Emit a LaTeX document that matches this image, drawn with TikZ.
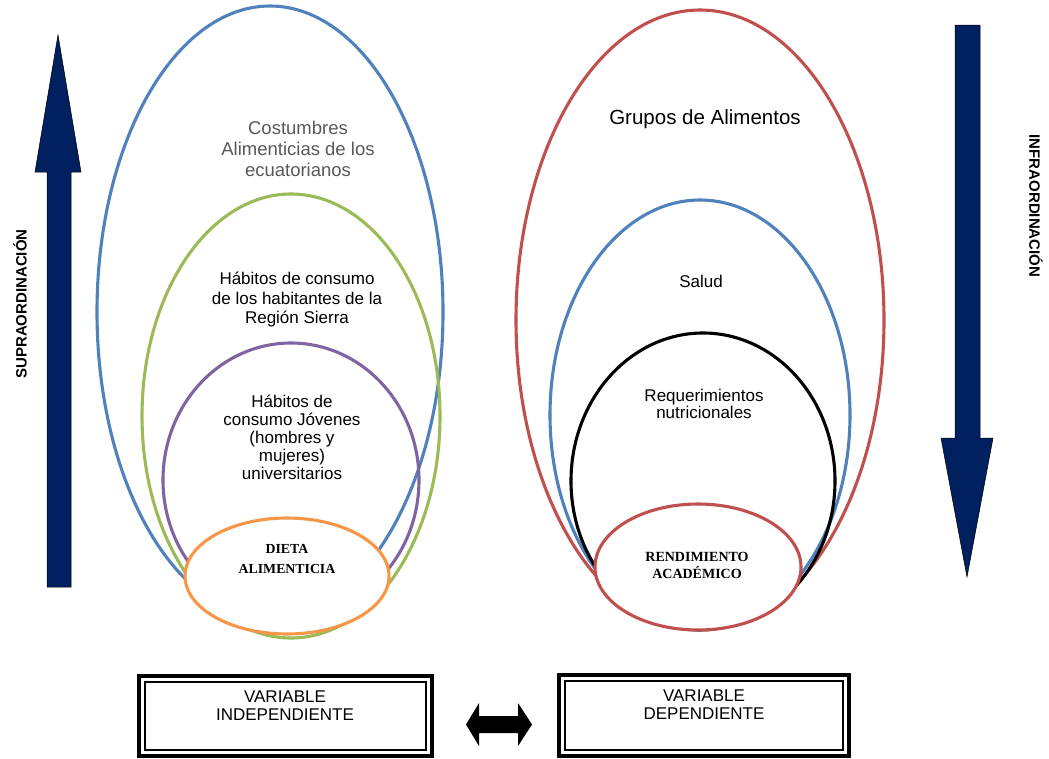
\documentclass[tikz,border=0pt]{standalone}
\usepackage{fontspec}
\setmainfont{Liberation Sans}
\newfontfamily\serifbf{Liberation Serif}
\usetikzlibrary{shapes.geometric}
\definecolor{cblue}{HTML}{4F81BD}
\definecolor{cgreen}{HTML}{9BBB59}
\definecolor{cpurple}{HTML}{8064A2}
\definecolor{corange}{HTML}{F79646}
\definecolor{cred}{HTML}{C0504D}
\definecolor{cnavy}{HTML}{002060}
\definecolor{cgray}{HTML}{595959}
\tikzset{
  ell/.style={ellipse, draw, line width=3.1pt, inner sep=0pt},
  lbl/.style={align=center, inner sep=0pt, font=\fontsize{17}{19.5}\selectfont},
  key/.style={align=center, inner sep=0pt, font=\serifbf\bfseries\fontsize{13.8}{19.5}\selectfont},
  side/.style={inner sep=0pt, font=\bfseries\fontsize{15}{17}\selectfont},
  bigarrow/.style={fill=cnavy, draw=black, line width=0.5pt},
  outerbox/.style={draw=black, line width=4pt},
  innerbox/.style={draw=black, line width=1.4pt},
}
\begin{document}
\begin{tikzpicture}[x=1pt,y=-1pt]
\useasboundingbox (0,0) rectangle (1049,758);
\fill[white] (0,0) rectangle (1049,758);

% left ellipses
\node[ell, draw=cblue, minimum width=346pt, minimum height=612pt] (costE) at (270,312) {};
\node[ell, draw=cgreen, minimum width=298pt, minimum height=444pt] (habE) at (291,416) {};
\node[ell, draw=cpurple, minimum width=256pt, minimum height=274pt] (jovE) at (291,480) {};
\node[ell, draw=corange, fill=white, minimum width=204pt, minimum height=116pt] (dietaE) at (287,576) {};

% right ellipses
\node[ell, draw=cred, minimum width=368pt, minimum height=620pt] (gruposE) at (700,320) {};
\node[ell, draw=cblue, minimum width=300pt, minimum height=430pt] (saludE) at (700,415) {};
\node[ell, draw=black, minimum width=264pt, minimum height=296pt] (reqE) at (703,481) {};
\node[ell, draw=cred, fill=white, minimum width=206pt, minimum height=126pt] (rendE) at (698,567) {};

% texts
\node[lbl, text=cgray, font=\fontsize{18.5}{21}\selectfont] (cost) at (298,149) {Costumbres\\Alimenticias de los\\ecuatorianos};
\node[lbl] (hab) at (297,299.5) {Hábitos de consumo\\de los habitantes de la\\Región Sierra};
\node[lbl, font=\fontsize{17}{18}\selectfont] (jov) at (292,437) {Hábitos de\\consumo Jóvenes\\(hombres y\\mujeres)\\universitarios};
\node[key] (dieta) at (287,559) {DIETA\\ALIMENTICIA};
\node[lbl, font=\fontsize{20.5}{22}\selectfont] (grupos) at (705,119) {Grupos de Alimentos};
\node[lbl] (salud) at (701,281) {Salud};
\node[lbl, font=\fontsize{17}{17}\selectfont] (req) at (704,403.5) {Requerimientos\\nutricionales};
\node[key, font=\serifbf\bfseries\fontsize{14}{17}\selectfont] (rend) at (697,565.5) {RENDIMIENTO\\ACADÉMICO};

% side arrows
\draw[bigarrow] (58,35) -- (81,172) -- (71,172) -- (71,587) -- (47,587) -- (47,172) -- (35,172) -- cycle;
\draw[bigarrow] (955,25) -- (980,25) -- (980,438) -- (993,438) -- (967,577) -- (941,438) -- (955,438) -- cycle;
\node[side, rotate=90] (supra) at (20,304) {SUPRAORDINACIÓN};
\node[side, rotate=-90] (infra) at (1036,206) {INFRAORDINACIÓN};

% bottom boxes
\draw[outerbox] (139,676) rectangle (432,756);
\draw[innerbox] (145,682) rectangle (426,750);
\node[lbl, font=\fontsize{17}{18}\selectfont] (vi) at (285,706) {VARIABLE\\INDEPENDIENTE};
\draw[outerbox] (559,675) rectangle (849,756);
\draw[innerbox] (565,681) rectangle (843,750);
\node[lbl, font=\fontsize{17}{18}\selectfont] (vd) at (704,704.5) {VARIABLE\\DEPENDIENTE};

% double arrow
\fill[black] (466,724.5) -- (479,703) -- (479,716) -- (518,716) -- (518,703) -- (532,724.5) -- (518,746) -- (518,733) -- (479,733) -- (479,746) -- cycle;
\end{tikzpicture}
\end{document}
